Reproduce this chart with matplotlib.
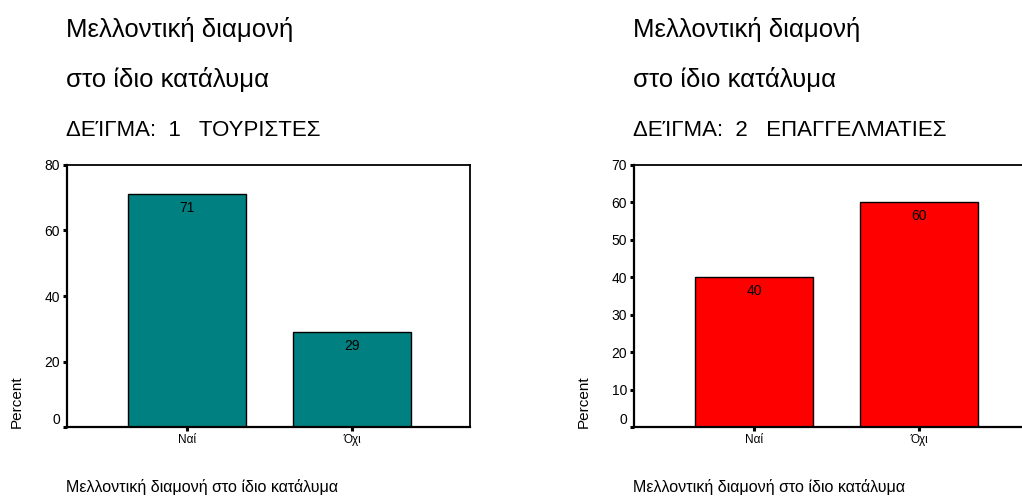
import matplotlib
matplotlib.use("Agg")
import matplotlib.pyplot as plt

plt.rcParams['font.family'] = ['Liberation Sans', 'DejaVu Sans']

categories = ["Ναί", "Όχι"]
tourists_pct = [71, 29]
professionals_pct = [40, 60]

title_lines = ["Μελλοντική διαμονή", "στο ίδιο κατάλυμα"]
sample_labels = ["ΔΕΊΓΜΑ:  1   ΤΟΥΡΙΣΤΕΣ", "ΔΕΊΓΜΑ:  2   ΕΠΑΓΓΕΛΜΑΤΙΕΣ"]
xlabel_text = "Μελλοντική διαμονή στο ίδιο κατάλυμα"
ylabel_text = "Percent"

panels = [
    dict(values=tourists_pct, color="#008080", ymax=80, yticks=[0, 20, 40, 60, 80], left_px=67),
    dict(values=professionals_pct, color="#ff0000", ymax=70, yticks=[0, 10, 20, 30, 40, 50, 60, 70], left_px=634),
]

W, H = 1022, 499
fig = plt.figure(figsize=(W / 100, H / 100), dpi=100)

for panel, sample in zip(panels, sample_labels):
    lp = panel["left_px"]
    ax = fig.add_axes([lp / W, (H - 427) / H, 403 / W, 262 / H])
    x = range(len(categories))
    ax.bar(x, panel["values"], width=0.71, color=panel["color"],
           edgecolor="black", linewidth=1.0, zorder=2)
    for xi, v in zip(x, panel["values"]):
        ax.annotate(f"{v}", (xi, v), xytext=(0, -5), textcoords="offset points",
                    ha="center", va="top", fontsize=10, color="black")
    ax.set_xlim(-0.727, 1.715)
    ax.set_ylim(0, panel["ymax"])
    ax.set_yticks(panel["yticks"])
    ax.set_yticklabels([str(t) for t in panel["yticks"]], fontsize=10)
    ax.set_xticks(list(x))
    ax.set_xticklabels(categories, fontsize=8.5)
    ax.tick_params(axis="both", direction="out", length=3, width=2.2, pad=2)
    # the zero label sits just above the baseline
    ax.get_yticklabels()[0].set_verticalalignment("bottom")
    for s in ax.spines.values():
        s.set_linewidth(1.3)
    ax.spines["left"].set_linewidth(1.6)
    ax.spines["bottom"].set_linewidth(1.6)

    # titles above the panel
    for i, line in enumerate(title_lines + [sample]):
        fs = 18.5 if i < 2 else 16
        fig.text((lp - 1) / W, 1 - (30 + 50 * i) / H, line, fontsize=fs,
                 ha="left", va="center")
    fig.text((lp - 1) / W, 1 - 487 / H, xlabel_text, fontsize=11.5,
             ha="left", va="center")
    fig.text((lp - 50) / W, (H - 428) / H, ylabel_text, fontsize=11,
             rotation=90, ha="center", va="bottom")

fig.savefig("out.png", dpi=100)
